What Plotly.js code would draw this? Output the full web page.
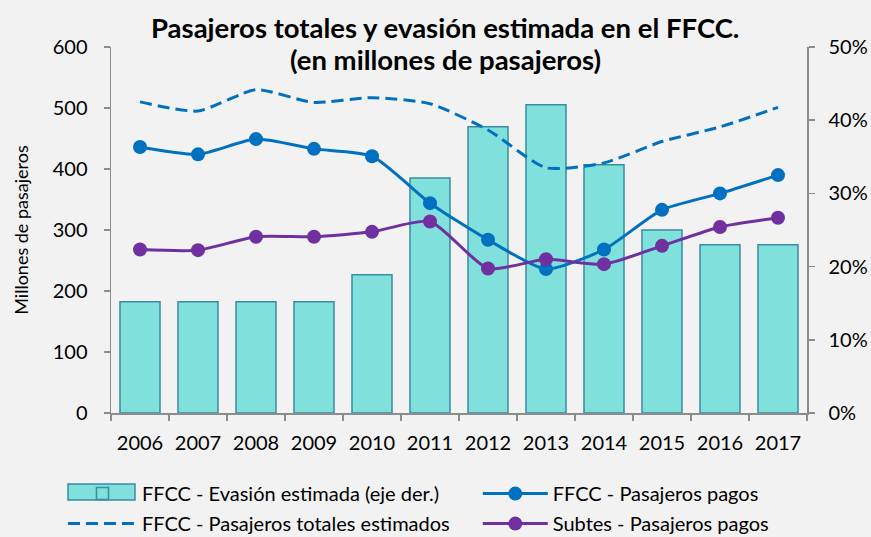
<!DOCTYPE html>
<html>
<head>
<meta charset="utf-8">
<script src="https://cdn.plot.ly/plotly-3.0.1.min.js"></script>
<style>html,body{margin:0;padding:0;background:#f2f2f2;}#chart{width:871px;height:537px;}</style>
</head>
<body>
<div id="chart"></div>
<script>
const years = ["2006","2007","2008","2009","2010","2011","2012","2013","2014","2015","2016","2017"];
const evasion = [0.152, 0.152, 0.152, 0.152, 0.189, 0.321, 0.391, 0.421, 0.339, 0.250, 0.230, 0.230];
const ffccPagos = [436, 424, 449, 433, 421, 344, 284, 236, 268, 333, 360, 390];
const ffccTotales = [510, 495, 530, 509, 517, 507, 464, 402, 410, 445, 469, 501];
const subtesPagos = [268, 267, 289, 289, 297, 314, 237, 252, 244, 274, 305, 320];
const titleLines = ["Pasajeros totales y evasión estimada en el FFCC.", "(en millones de pasajeros)"];

const FONT = "Lato, 'Open Sans', sans-serif";
const BAR_FILL = "#80e0dc", BAR_LINE = "#3a8ca3";

const traces = [
  {
    type: "bar", x: years, y: evasion, name: "FFCC - Evasión estimada (eje der.)",
    marker: {color: BAR_FILL, line: {color: BAR_LINE, width: 1.5}},
    width: 0.69, yaxis: "y", legend: "legend", legendgroup: "a", legendrank: 1
  },
  {
    type: "scatter", mode: "lines+markers", x: years, y: ffccPagos, name: "FFCC - Pasajeros pagos",
    line: {color: "#0070c0", width: 3, shape: "spline", smoothing: 0.6},
    marker: {color: "#0070c0", size: 14}, yaxis: "y2", legend: "legend2", legendgroup: "c", legendrank: 1
  },
  {
    type: "scatter", mode: "lines", x: years, y: ffccTotales, name: "FFCC - Pasajeros totales estimados",
    line: {color: "#0070c0", width: 3, dash: "12px,6px", shape: "spline", smoothing: 0.6},
    yaxis: "y2", legend: "legend", legendgroup: "b", legendrank: 2
  },
  {
    type: "scatter", mode: "lines+markers", x: years, y: subtesPagos, name: "Subtes - Pasajeros pagos",
    line: {color: "#7030a0", width: 3, shape: "spline", smoothing: 0.6},
    marker: {color: "#7030a0", size: 14}, yaxis: "y2", legend: "legend2", legendgroup: "d", legendrank: 2
  }
];

const axisCommon = {
  showgrid: false, zeroline: false, showline: true, linecolor: "#8c8c8c", linewidth: 1.5,
  ticks: "outside", ticklen: 6, tickcolor: "#8c8c8c", tickwidth: 1.5,
  tickfont: {family: FONT, size: 20, color: "#000"}
};

const legendCommon = {
  orientation: "v", xanchor: "left", yanchor: "top", y: -0.167,
  font: {family: FONT, size: 20}, bgcolor: "rgba(0,0,0,0)", tracegroupgap: 1
};

const layout = {
  width: 871, height: 537,
  paper_bgcolor: "#f2f2f2", plot_bgcolor: "#f2f2f2",
  font: {family: FONT, size: 20, color: "#000"},
  margin: {l: 111, r: 64, t: 47, b: 124, autoexpand: false},
  showlegend: true,
  xaxis: Object.assign({}, axisCommon, {
    type: "category", range: [-0.5, 11.5], tickson: "boundaries", ticklabelstandoff: 11
  }),
  yaxis: Object.assign({}, axisCommon, {
    side: "right", range: [0, 0.5], dtick: 0.1, tickformat: ".0%", ticklabelstandoff: 10
  }),
  yaxis2: Object.assign({}, axisCommon, {
    overlaying: "y", side: "left", range: [0, 600], dtick: 100, ticklabelstandoff: 12,
    title: {text: "Millones de pasajeros", font: {family: FONT, size: 18}, standoff: 19}
  }),
  annotations: [
    {text: "<b>" + titleLines[0] + "</b>", xref: "paper", yref: "paper", x: 0.48, y: 1.0546,
     xanchor: "center", yanchor: "middle", showarrow: false, font: {family: FONT, size: 27.5, color: "#000"}},
    {text: "<b>" + titleLines[1] + "</b>", xref: "paper", yref: "paper", x: 0.48, y: 0.9645,
     xanchor: "center", yanchor: "middle", showarrow: false, font: {family: FONT, size: 27.5, color: "#000"}}
  ],
  shapes: [
    {type: "rect", xref: "paper", yref: "paper", layer: "above",
     x0: (68 - 111) / 696, x1: (135 - 111) / 696, y0: (413 - 484) / 366, y1: (413 - 500) / 366,
     fillcolor: BAR_FILL, line: {color: BAR_LINE, width: 1.5}}
  ],
  legend: Object.assign({}, legendCommon, {x: -0.069, itemwidth: 69}),
  legend2: Object.assign({}, legendCommon, {x: 0.527, itemwidth: 65})
};

Plotly.newPlot("chart", traces, layout, {displayModeBar: false, staticPlot: true});
</script>
</body>
</html>
